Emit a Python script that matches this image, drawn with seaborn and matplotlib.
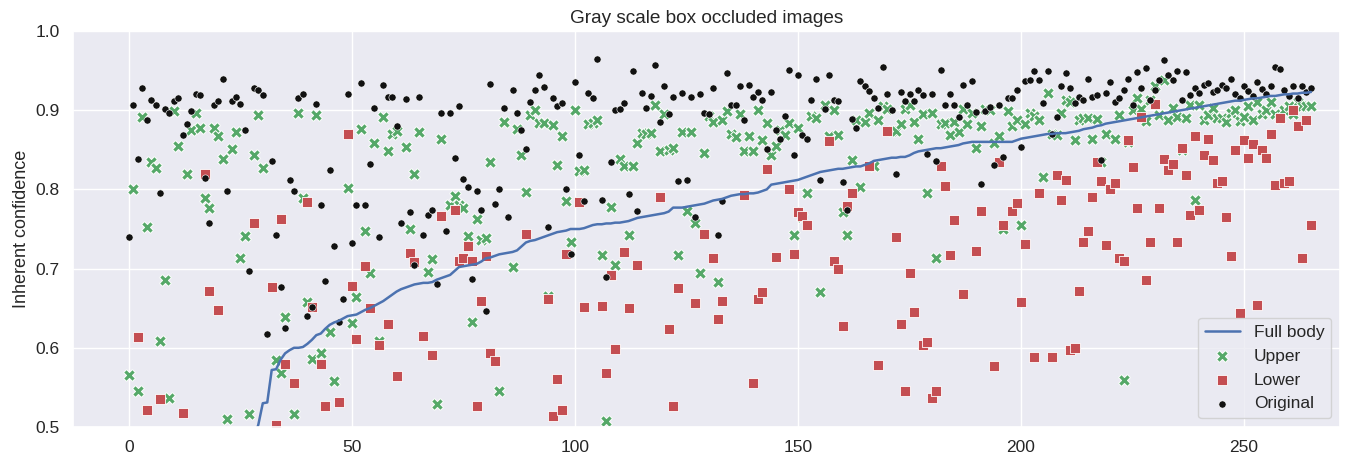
import numpy as np
import pandas as pd
import matplotlib
matplotlib.use("Agg")
import matplotlib.pyplot as plt
import seaborn as sns

# Full body confidence (sorted ascending)
full_body = [
    0.10, 0.14, 0.18, 0.21, 0.24, 0.26, 0.28, 0.30, 0.32, 0.33,
    0.34, 0.35, 0.36, 0.37, 0.38, 0.39, 0.40, 0.41, 0.42, 0.43,
    0.44, 0.445, 0.45, 0.455, 0.46, 0.47, 0.475, 0.48, 0.485, 0.503,
    0.530, 0.531, 0.572, 0.573, 0.585, 0.593, 0.597, 0.600, 0.600, 0.601,
    0.605, 0.610, 0.616, 0.618, 0.624, 0.629, 0.632, 0.634, 0.637, 0.640,
    0.641, 0.642, 0.645, 0.648, 0.650, 0.653, 0.656, 0.659, 0.663, 0.667,
    0.671, 0.674, 0.676, 0.678, 0.680, 0.681, 0.682, 0.682, 0.683, 0.686,
    0.688, 0.690, 0.692, 0.697, 0.702, 0.703, 0.704, 0.705, 0.706, 0.709,
    0.713, 0.714, 0.716, 0.718, 0.719, 0.720, 0.721, 0.723, 0.728, 0.733,
    0.735, 0.736, 0.738, 0.740, 0.742, 0.744, 0.746, 0.747, 0.748, 0.750,
    0.750, 0.750, 0.751, 0.753, 0.755, 0.756, 0.756, 0.757, 0.757, 0.758,
    0.758, 0.759, 0.760, 0.762, 0.764, 0.765, 0.766, 0.767, 0.768, 0.769,
    0.770, 0.772, 0.777, 0.777, 0.777, 0.778, 0.779, 0.780, 0.781, 0.782,
    0.784, 0.786, 0.787, 0.788, 0.790, 0.792, 0.793, 0.794, 0.794, 0.795,
    0.795, 0.796, 0.798, 0.800, 0.806, 0.807, 0.808, 0.809, 0.810, 0.811,
    0.812, 0.814, 0.816, 0.818, 0.820, 0.822, 0.823, 0.824, 0.825, 0.826,
    0.826, 0.827, 0.828, 0.829, 0.829, 0.831, 0.833, 0.836, 0.837, 0.838,
    0.839, 0.840, 0.840, 0.841, 0.841, 0.843, 0.846, 0.848, 0.849, 0.850,
    0.851, 0.852, 0.852, 0.853, 0.854, 0.855, 0.856, 0.858, 0.859, 0.860,
    0.860, 0.860, 0.860, 0.860, 0.860, 0.860, 0.860, 0.860, 0.860, 0.862,
    0.864, 0.865, 0.866, 0.867, 0.868, 0.869, 0.870, 0.870, 0.871, 0.871,
    0.871, 0.872, 0.873, 0.874, 0.876, 0.877, 0.878, 0.880, 0.881, 0.883,
    0.884, 0.885, 0.886, 0.887, 0.888, 0.889, 0.890, 0.891, 0.892, 0.893,
    0.894, 0.895, 0.896, 0.897, 0.898, 0.899, 0.900, 0.901, 0.902, 0.903,
    0.904, 0.905, 0.906, 0.907, 0.908, 0.909, 0.910, 0.911, 0.912, 0.912,
    0.913, 0.914, 0.915, 0.915, 0.916, 0.917, 0.918, 0.918, 0.919, 0.920,
    0.920, 0.921, 0.921, 0.922, 0.922, 0.923,
]

# Upper body occluded
upper = [
    0.566, 0.801, 0.546, 0.891, 0.752, 0.834, 0.827, 0.609, 0.686, 0.536,
    0.899, 0.855, 0.450, 0.819, 0.875, 0.896, 0.878, 0.789, 0.777, 0.878,
    0.867, 0.838, 0.510, 0.851, 0.872, 0.714, 0.741, 0.517, 0.843, 0.894,
    0.827, 0.450, 0.470, 0.585, 0.568, 0.639, 0.440, 0.517, 0.896, 0.789,
    0.658, 0.586, 0.894, 0.594, 0.460, 0.620, 0.558, 0.430, 0.470, 0.802,
    0.631, 0.664, 0.876, 0.748, 0.695, 0.859, 0.608, 0.892, 0.849, 0.870,
    0.874, 0.450, 0.853, 0.750, 0.819, 0.872, 0.440, 0.696, 0.712, 0.529,
    0.863, 0.460, 0.780, 0.792, 0.780, 0.776, 0.741, 0.633, 0.763, 0.736,
    0.738, 0.834, 0.450, 0.545, 0.885, 0.470, 0.702, 0.876, 0.844, 0.797,
    0.894, 0.900, 0.884, 0.884, 0.666, 0.881, 0.831, 0.868, 0.785, 0.733,
    0.900, 0.823, 0.824, 0.882, 0.884, 0.888, 0.717, 0.507, 0.778, 0.705,
    0.838, 0.829, 0.743, 0.830, 0.859, 0.871, 0.870, 0.871, 0.907, 0.848,
    0.895, 0.850, 0.852, 0.717, 0.873, 0.773, 0.873, 0.757, 0.694, 0.846,
    0.893, 0.885, 0.683, 0.888, 0.899, 0.870, 0.866, 0.895, 0.849, 0.868,
    0.848, 0.900, 0.862, 0.884, 0.843, 0.855, 0.875, 0.869, 0.884, 0.742,
    0.877, 0.765, 0.796, 0.893, 0.890, 0.671, 0.907, 0.867, 0.900, 0.869,
    0.771, 0.742, 0.837, 0.888, 0.803, 0.885, 0.897, 0.829, 0.888, 0.905,
    0.902, 0.874, 0.874, 0.883, 0.901, 0.906, 0.885, 0.864, 0.895, 0.796,
    0.897, 0.714, 0.882, 0.884, 0.869, 0.885, 0.872, 0.902, 0.882, 0.897,
    0.852, 0.880, 0.901, 0.900, 0.859, 0.868, 0.750, 0.899, 0.880, 0.888,
    0.755, 0.883, 0.897, 0.893, 0.887, 0.816, 0.922, 0.870, 0.869, 0.897,
    0.913, 0.910, 0.862, 0.887, 0.890, 0.890, 0.864, 0.889, 0.835, 0.870,
    0.800, 0.864, 0.894, 0.559, 0.860, 0.900, 0.915, 0.902, 0.886, 0.913,
    0.930, 0.894, 0.938, 0.888, 0.903, 0.892, 0.850, 0.890, 0.907, 0.786,
    0.907, 0.887, 0.894, 0.903, 0.890, 0.890, 0.885, 0.897, 0.900, 0.886,
    0.892, 0.905, 0.887, 0.910, 0.895, 0.900, 0.910, 0.895, 0.890, 0.900,
    0.905, 0.895, 0.910, 0.905, 0.905, 0.905,
]

# Lower body occluded
lower = [
    0.400, 0.420, 0.614, 0.380, 0.521, 0.450, 0.410, 0.535, 0.390, 0.440,
    0.400, 0.430, 0.518, 0.370, 0.420, 0.450, 0.400, 0.819, 0.672, 0.420,
    0.648, 0.400, 0.440, 0.380, 0.460, 0.410, 0.430, 0.390, 0.757, 0.440,
    0.400, 0.420, 0.677, 0.502, 0.762, 0.580, 0.430, 0.556, 0.410, 0.450,
    0.784, 0.651, 0.440, 0.580, 0.527, 0.420, 0.460, 0.532, 0.400, 0.870,
    0.678, 0.611, 0.430, 0.703, 0.650, 0.410, 0.603, 0.440, 0.630, 0.400,
    0.565, 0.420, 0.450, 0.720, 0.708, 0.420, 0.615, 0.440, 0.591, 0.410,
    0.766, 0.430, 0.400, 0.774, 0.710, 0.714, 0.729, 0.710, 0.527, 0.659,
    0.716, 0.593, 0.583, 0.420, 0.440, 0.400, 0.460, 0.410, 0.430, 0.744,
    0.390, 0.450, 0.420, 0.400, 0.662, 0.514, 0.560, 0.522, 0.719, 0.440,
    0.410, 0.784, 0.651, 0.430, 0.400, 0.450, 0.653, 0.568, 0.692, 0.599,
    0.420, 0.721, 0.650, 0.440, 0.704, 0.410, 0.430, 0.400, 0.450, 0.790,
    0.420, 0.624, 0.527, 0.676, 0.440, 0.410, 0.430, 0.656, 0.400, 0.744,
    0.450, 0.713, 0.636, 0.659, 0.420, 0.440, 0.410, 0.430, 0.793, 0.400,
    0.556, 0.661, 0.671, 0.826, 0.450, 0.715, 0.420, 0.430, 0.800, 0.719,
    0.771, 0.766, 0.755, 0.440, 0.410, 0.430, 0.400, 0.861, 0.710, 0.700,
    0.628, 0.779, 0.796, 0.450, 0.420, 0.440, 0.829, 0.410, 0.578, 0.430,
    0.874, 0.400, 0.740, 0.630, 0.546, 0.694, 0.645, 0.450, 0.603, 0.607,
    0.537, 0.545, 0.829, 0.804, 0.717, 0.761, 0.420, 0.668, 0.440, 0.430,
    0.722, 0.773, 0.410, 0.430, 0.577, 0.834, 0.755, 0.400, 0.773, 0.783,
    0.658, 0.731, 0.450, 0.588, 0.796, 0.420, 0.440, 0.589, 0.818, 0.786,
    0.812, 0.597, 0.600, 0.672, 0.733, 0.748, 0.790, 0.835, 0.810, 0.730,
    0.800, 0.808, 0.713, 0.710, 0.862, 0.828, 0.777, 0.892, 0.685, 0.733,
    0.908, 0.776, 0.838, 0.824, 0.832, 0.733, 0.852, 0.818, 0.768, 0.867,
    0.774, 0.843, 0.863, 0.837, 0.808, 0.811, 0.765, 0.716, 0.850, 0.644,
    0.862, 0.840, 0.857, 0.654, 0.850, 0.840, 0.870, 0.806, 0.890, 0.808,
    0.810, 0.900, 0.880, 0.714, 0.888, 0.755,
]

# Original image
original = [
    0.740, 0.907, 0.838, 0.928, 0.888, 0.913, 0.907, 0.796, 0.902, 0.896,
    0.911, 0.916, 0.869, 0.883, 0.899, 0.920, 0.919, 0.814, 0.757, 0.906,
    0.912, 0.940, 0.798, 0.912, 0.917, 0.908, 0.875, 0.697, 0.928, 0.925,
    0.919, 0.617, 0.836, 0.742, 0.677, 0.625, 0.812, 0.798, 0.916, 0.920,
    0.640, 0.651, 0.908, 0.780, 0.684, 0.825, 0.729, 0.632, 0.662, 0.920,
    0.732, 0.780, 0.934, 0.780, 0.832, 0.903, 0.740, 0.932, 0.917, 0.917,
    0.880, 0.758, 0.914, 0.771, 0.705, 0.917, 0.743, 0.768, 0.774, 0.681,
    0.897, 0.747, 0.897, 0.840, 0.905, 0.813, 0.803, 0.687, 0.798, 0.774,
    0.647, 0.933, 0.781, 0.800, 0.903, 0.765, 0.926, 0.896, 0.875, 0.851,
    0.910, 0.926, 0.944, 0.929, 0.752, 0.916, 0.905, 0.909, 0.801, 0.718,
    0.935, 0.844, 0.785, 0.922, 0.915, 0.964, 0.787, 0.689, 0.834, 0.900,
    0.901, 0.909, 0.794, 0.949, 0.773, 0.922, 0.903, 0.918, 0.957, 0.885,
    0.931, 0.895, 0.917, 0.811, 0.922, 0.812, 0.917, 0.765, 0.920, 0.897,
    0.895, 0.928, 0.742, 0.785, 0.947, 0.907, 0.906, 0.930, 0.887, 0.932,
    0.917, 0.923, 0.913, 0.851, 0.923, 0.875, 0.863, 0.893, 0.951, 0.843,
    0.945, 0.869, 0.863, 0.913, 0.940, 0.812, 0.901, 0.944, 0.913, 0.912,
    0.809, 0.774, 0.889, 0.878, 0.937, 0.931, 0.924, 0.916, 0.903, 0.955,
    0.921, 0.900, 0.819, 0.923, 0.912, 0.920, 0.912, 0.926, 0.919, 0.845,
    0.920, 0.836, 0.951, 0.907, 0.920, 0.906, 0.892, 0.932, 0.906, 0.937,
    0.898, 0.807, 0.899, 0.904, 0.831, 0.906, 0.841, 0.916, 0.916, 0.926,
    0.853, 0.937, 0.938, 0.949, 0.938, 0.909, 0.949, 0.870, 0.891, 0.931,
    0.947, 0.928, 0.909, 0.917, 0.913, 0.939, 0.917, 0.919, 0.837, 0.922,
    0.936, 0.910, 0.915, 0.925, 0.940, 0.906, 0.948, 0.928, 0.953, 0.913,
    0.925, 0.938, 0.963, 0.944, 0.938, 0.950, 0.913, 0.948, 0.919, 0.928,
    0.922, 0.932, 0.934, 0.923, 0.925, 0.932, 0.928, 0.940, 0.920, 0.915,
    0.930, 0.924, 0.918, 0.935, 0.927, 0.920, 0.930, 0.955, 0.952, 0.925,
    0.918, 0.931, 0.915, 0.930, 0.923, 0.928,
]

df = pd.DataFrame({
    "image": np.arange(len(full_body)),
    "Full body": full_body,
    "Upper": upper,
    "Lower": lower,
    "Original": original,
})

sns.set_theme(style="darkgrid")
plt.rcParams["font.family"] = ["Liberation Sans", "DejaVu Sans"]

fig = plt.figure(figsize=(13.48, 4.59), dpi=100)
ax = fig.add_axes([0.054, 0.0697, 0.940, 0.8628])

sns.lineplot(data=df, x="image", y="Full body", color="#4C72B0", lw=1.8,
             label="Full body", ax=ax)
sns.scatterplot(data=df, x="image", y="Upper", marker="X", s=72,
                color="#55A868", label="Upper", ax=ax)
sns.scatterplot(data=df, x="image", y="Lower", marker="s", s=56,
                color="#C44E52", label="Lower", ax=ax)
sns.scatterplot(data=df, x="image", y="Original", marker="o", s=27,
                color="#111111", label="Original", ax=ax)

ax.set_xlim(-12.6, 271.5)
ax.set_ylim(0.5, 1.0)
ax.set_xticks([0, 50, 100, 150, 200, 250])
ax.set_yticks([0.5, 0.6, 0.7, 0.8, 0.9, 1.0])
ax.set_xlabel("")
ax.set_ylabel("Inherent confidence", fontsize=13)
ax.set_title("Gray scale box occluded images", fontsize=13.7)
ax.tick_params(labelsize=12.5)
ax.legend(loc="lower right", fontsize=12.5)

fig.savefig("out.png", dpi=100)
